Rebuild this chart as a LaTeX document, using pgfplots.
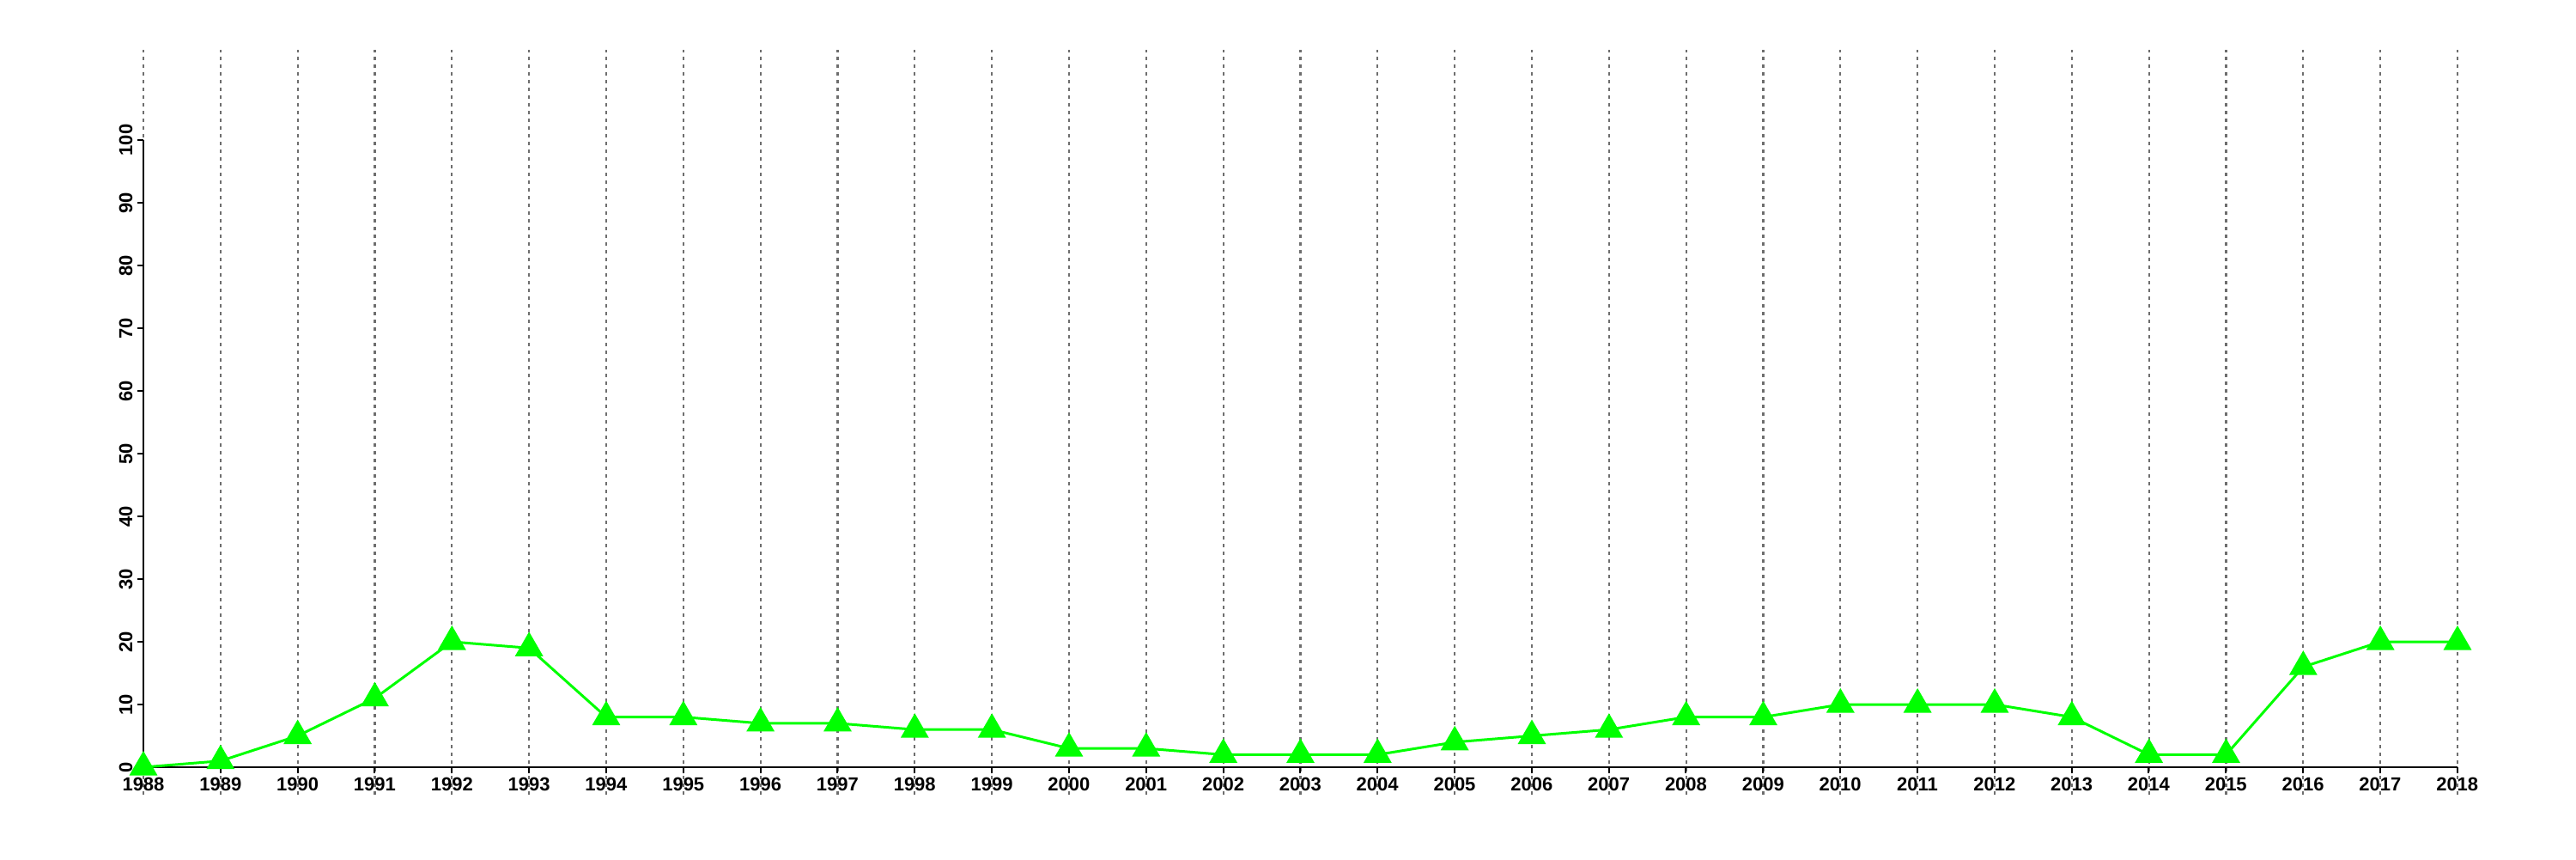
\documentclass[border=0pt]{standalone}
\usepackage{fontspec}
\setmainfont{Liberation Sans}
\usepackage{pgfplots}
\pgfplotsset{compat=1.18}
\definecolor{ptgreen}{RGB}{0,255,0}
\definecolor{gridgray}{RGB}{110,110,110}
\begin{document}
\begin{tikzpicture}
\useasboundingbox (0,0) rectangle (750pt,250pt);

% background axis: dotted year lines over the whole plot region
\begin{axis}[
    scale only axis,
    width=727.7pt, height=216.8pt,
    at={(14.8pt,18.7pt)}, anchor=south west,
    xmin=1986.8, xmax=2019.2,
    ymin=-4.4, ymax=114.4,
    xtick={1988,1989,...,2018}, xticklabels={},
    ytick=\empty,
    xmajorgrids,
    major grid style={gridgray, line width=0.55pt, dash pattern=on 1pt off 1.25pt},
    axis line style={draw=none},
    major tick length=0pt,
    ]
\end{axis}

% main axis
\begin{axis}[
    scale only axis,
    width=673.75pt, height=182.5pt,
    at={(41.75pt,26.75pt)}, anchor=south west,
    xmin=1988, xmax=2018,
    ymin=0, ymax=100,
    clip=false,
    axis x line=bottom, axis y line=left,
    axis line style={-, black, line width=0.5pt},
    tick align=outside,
    major tick length=1.75pt,
    tick style={black, line width=0.5pt},
    xtick={1988,1989,...,2018},
    ytick={0,10,...,100},
    /pgf/number format/assume math mode=true,
    /pgf/number format/1000 sep={},
    ticklabel style={font=\bfseries\fontsize{5.5}{6}\selectfont, inner sep=1.2pt},
    yticklabel style={rotate=90, anchor=south},
    xticklabel style={anchor=north},
    ]
\addplot[color=ptgreen, line width=0.75pt, mark=triangle*, mark size=4pt,
    mark options={fill=ptgreen, draw=ptgreen}] coordinates {
    (1988,0) (1989,1) (1990,5) (1991,11) (1992,20) (1993,19)
    (1994,8) (1995,8) (1996,7) (1997,7) (1998,6) (1999,6)
    (2000,3) (2001,3) (2002,2) (2003,2) (2004,2) (2005,4)
    (2006,5) (2007,6) (2008,8) (2009,8) (2010,10) (2011,10)
    (2012,10) (2013,8) (2014,2) (2015,2) (2016,16) (2017,20)
    (2018,20)
};
\end{axis}
\end{tikzpicture}
\end{document}
